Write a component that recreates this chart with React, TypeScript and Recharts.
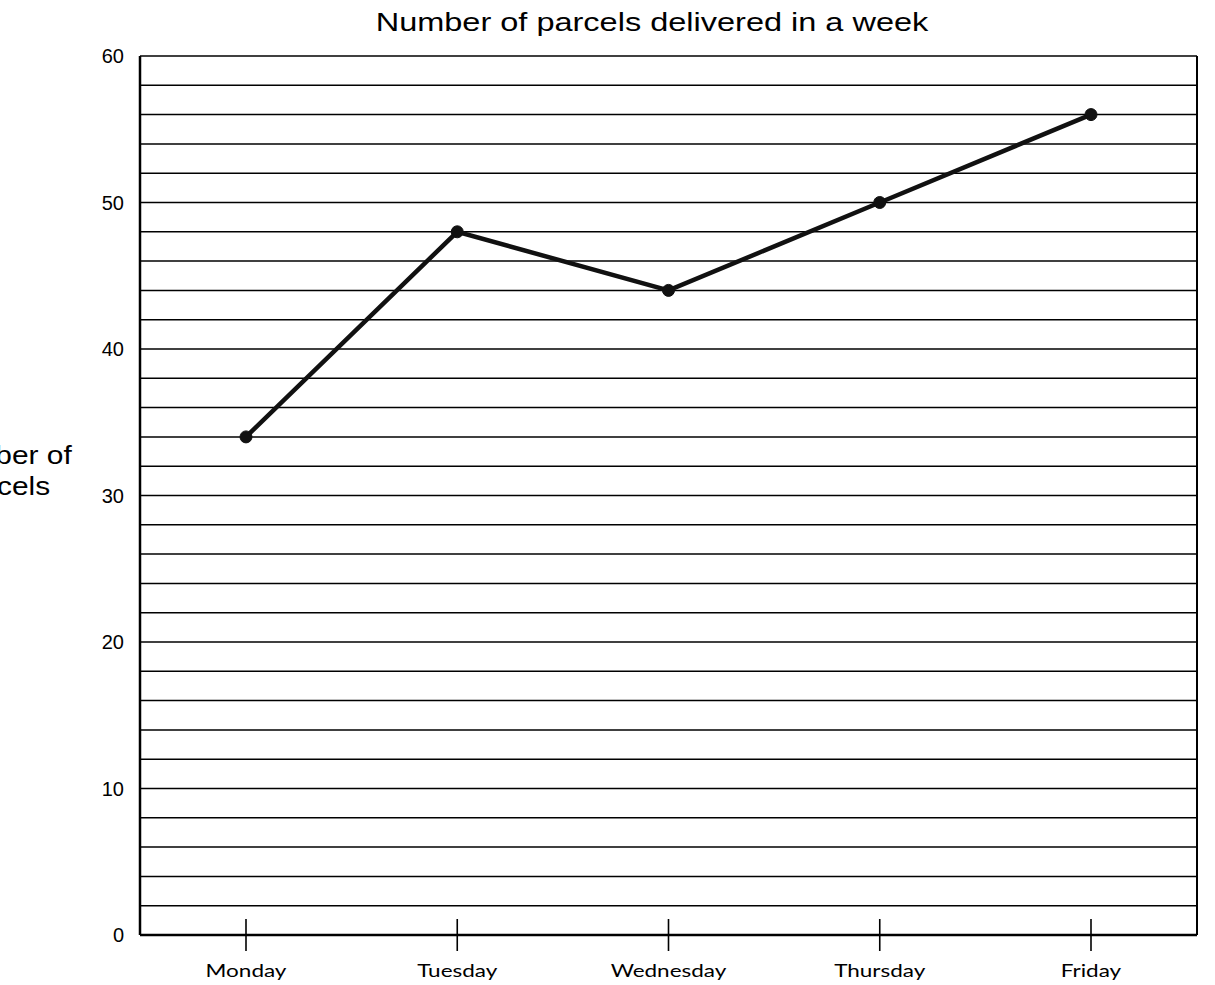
import React from 'react';
import { LineChart, Line, XAxis, YAxis, CartesianGrid } from 'recharts';

const DAYS = ['Monday', 'Tuesday', 'Wednesday', 'Thursday', 'Friday'];
const PARCELS = [34, 48, 44, 50, 56];
const Y_TICKS = [0, 10, 20, 30, 40, 50, 60];
const GRID_TICKS = [0, 2, 4, 6, 8, 10, 12, 14, 16, 18, 20, 22, 24, 26, 28, 30, 32, 34, 36, 38, 40, 42, 44, 46, 48, 50, 52, 54, 56, 58, 60];
const TITLE = 'Number of parcels delivered in a week';
const Y_LABEL = ['Number of', 'parcels'];

const data = DAYS.map((d, i) => ({ day: d, value: PARCELS[i] }));

const DayTick = (props: any) => {
  const { x, y, payload } = props;
  return (
    <g>
      <line x1={x} y1={y - 16} x2={x} y2={y + 16} stroke="#000" strokeWidth={1.6} />
      <text
        transform={`translate(${x},${y + 42}) scale(1.25,1)`}
        textAnchor="middle"
        fontFamily="Lato, 'Open Sans', sans-serif"
        fontSize={18}
        fill="#000"
      >
        {payload.value}
      </text>
    </g>
  );
};

const ValueTick = (props: any) => {
  const { x, y, payload } = props;
  if (!Y_TICKS.includes(payload.value)) return <g />;
  return (
    <text
      x={x}
      y={y}
      dy="0.35em"
      textAnchor="end"
      fontFamily="'Liberation Sans', Arial, sans-serif"
      fontSize={20}
      fill="#000"
    >
      {payload.value}
    </text>
  );
};

export default function App() {
  return (
    <div style={{ position: 'absolute', left: 0, top: 0, width: 1215, height: 985, background: '#fff', overflow: 'hidden' }}>
      <LineChart width={1215} height={985} data={data} margin={{ top: 56, right: 0, bottom: 0, left: 0 }}>
        <CartesianGrid yAxisId="left" vertical={false} horizontal stroke="#000" strokeWidth={1.5} />
        <XAxis
          dataKey="day"
          tick={<DayTick />}
          tickLine={false}
          tickSize={0}
          tickMargin={0}
          axisLine={{ stroke: '#000', strokeWidth: 2.5 }}
          interval={0}
          height={50}
          padding={{ left: 106, right: 106 }}
        />
        <YAxis
          yAxisId="left"
          domain={[0, 60]}
          ticks={GRID_TICKS}
          interval={0}
          width={140}
          tickSize={0}
          tickMargin={16}
          tickLine={false}
          axisLine={{ stroke: '#000', strokeWidth: 2.5 }}
          tick={<ValueTick />}
        />
        <YAxis
          yAxisId="right"
          orientation="right"
          domain={[0, 60]}
          ticks={Y_TICKS}
          width={18}
          tick={false}
          tickLine={false}
          axisLine={{ stroke: '#000', strokeWidth: 2 }}
        />
        <Line
          yAxisId="left"
          type="linear"
          dataKey="value"
          stroke="#111"
          strokeWidth={4.5}
          dot={{ r: 6, fill: '#111', stroke: '#111', strokeWidth: 1 }}
          isAnimationActive={false}
        />
      </LineChart>
      <svg width={1215} height={985} style={{ position: 'absolute', left: 0, top: 0, pointerEvents: 'none' }}>
        <text
          transform="translate(652,31) scale(1.25,1)"
          textAnchor="middle"
          fontFamily="'Liberation Sans', Arial, sans-serif"
          fontSize={26}
          fill="#000"
        >
          {TITLE}
        </text>
        {Y_LABEL.map((t, i) => (
          <text
            key={t}
            transform={`translate(2,${464 + i * 31}) scale(1.15,1)`}
            textAnchor="middle"
            fontFamily="'Liberation Sans', Arial, sans-serif"
            fontSize={26}
            fill="#000"
          >
            {t}
          </text>
        ))}
      </svg>
    </div>
  );
}
